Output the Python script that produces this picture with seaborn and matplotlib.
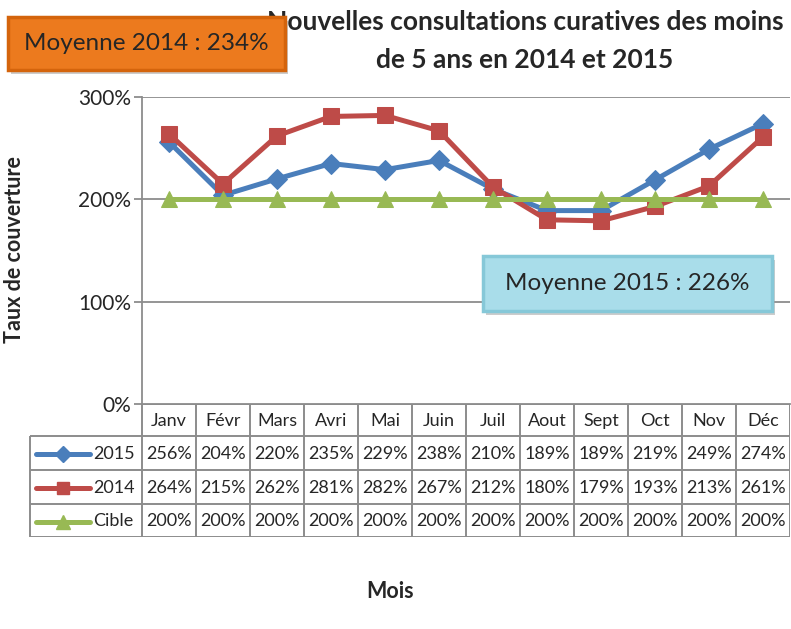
"""Nouvelles consultations curatives - taux de couverture 2014 / 2015."""

import matplotlib
matplotlib.use('Agg')
import matplotlib.pyplot as plt
from matplotlib.patches import FancyBboxPatch
import numpy as np
import pandas as pd
import seaborn as sns

# data
months = ['Janv', 'Févr', 'Mars', 'Avri', 'Mai', 'Juin', 'Juil', 'Aout',
          'Sept', 'Oct', 'Nov', 'Déc']
taux_2015 = [256, 204, 220, 235, 229, 238, 210, 189, 189, 219, 249, 274]
taux_2014 = [264, 215, 262, 281, 282, 267, 212, 180, 179, 193, 213, 261]
cible = [200, 200, 200, 200, 200, 200, 200, 200, 200, 200, 200, 200]
y_ticks = [0, 100, 200, 300]

series = [
    ('2015', taux_2015, '#4A7EBB', 'D', 10),
    ('2014', taux_2014, '#BE4B48', 's', 11),
    ('Cible', cible, '#98B954', '^', 12),
]

df = pd.DataFrame({'mois': months, '2015': taux_2015, '2014': taux_2014, 'Cible': cible})
df['idx'] = np.arange(len(months))

sns.set_style("white")
plt.rcParams['font.family'] = ['Lato', 'DejaVu Sans']

W, H = 791, 629
fig = plt.figure(figsize=(W / 100, H / 100), dpi=100)


def px_axes(x0, y0, x1, y1):
    """Axes placed from pixel coordinates (origin top-left)."""
    return fig.add_axes([x0 / W, 1 - y1 / H, (x1 - x0) / W, (y1 - y0) / H])


# main plot area
ax = px_axes(142, 97, 790, 404)
grid_col = '#8C8C8C'
for v in y_ticks[1:]:
    ax.axhline(v, color=grid_col, lw=1.3, zorder=0)

for name, vals, col, mk, ms in series:
    sns.lineplot(data=df, x='idx', y=name, ax=ax, color=col, marker=mk,
                 markersize=ms, markeredgecolor=col, linewidth=3.6,
                 label=name, legend=False, zorder=3)

ax.set_xlim(-0.5, len(months) - 0.5)
ax.set_ylim(0, 300)
ax.set_yticks(y_ticks)
ax.set_yticklabels([f'{v}%' for v in y_ticks], fontsize=15)
ax.set_xticks([])
ax.set_xlabel('')
ax.set_ylabel('')
ax.tick_params(axis='y', length=6, color=grid_col, width=1.3, pad=2, left=True)
for s in ['top', 'right']:
    ax.spines[s].set_visible(False)
for s in ['left', 'bottom']:
    ax.spines[s].set_color(grid_col)
    ax.spines[s].set_linewidth(1.3)
ax.patch.set_alpha(0)

# data table under the plot
col_w = 54.0
label_left = 29
tx0 = -0.5 - (142 - label_left) / col_w
tab = px_axes(label_left, 404, 790, 537)
tab.set_xlim(tx0, len(months) - 0.5)
tab.set_ylim(537, 404)
tab.axis('off')
rows_y = [404, 436, 470, 504, 537]
lw = 1.4
for k in range(len(months) + 1):
    tab.vlines(k - 0.5, 404, 537, color=grid_col, lw=lw)
tab.vlines(tx0 + 0.02, 436, 537, color=grid_col, lw=lw)
tab.hlines(404, -0.5, len(months) - 0.5, color=grid_col, lw=lw)
for yy in rows_y[1:]:
    tab.hlines(yy, tx0 + 0.02, len(months) - 0.5, color=grid_col, lw=lw)

fs_tab = 13
for i, m in enumerate(months):
    tab.text(i, (rows_y[0] + rows_y[1]) / 2 + 1, m, ha='center', va='center', fontsize=fs_tab)
for r, (name, vals, col, mk, ms) in enumerate(series):
    yc = (rows_y[r + 1] + rows_y[r + 2]) / 2 + 1
    for i, v in enumerate(vals):
        tab.text(i, yc, f'{v}%', ha='center', va='center', fontsize=fs_tab)
    kx = lambda p: tx0 + (p - label_left) / col_w
    tab.plot([kx(36), kx(90)], [yc, yc], color=col, lw=3.6, solid_capstyle='round')
    tab.plot([kx(63)], [yc], marker=mk, color=col, markersize=ms * 0.8)
    tab.text(kx(93), yc, name, ha='left', va='center', fontsize=fs_tab)

# titles and axis labels
fig.text(525 / W, 1 - 22 / H, 'Nouvelles consultations curatives des moins',
         ha='center', va='center', fontsize=19, fontweight='bold')
fig.text(525 / W, 1 - 60 / H, 'de 5 ans en 2014 et 2015',
         ha='center', va='center', fontsize=19, fontweight='bold')
fig.text(15 / W, 1 - 250 / H, 'Taux de couverture', rotation=90,
         ha='center', va='center', fontsize=15.5, fontweight='bold')
fig.text(390 / W, 1 - 592 / H, 'Mois', ha='center', va='center',
         fontsize=15.5, fontweight='bold')

# average boxes
moy_2014 = np.mean(taux_2014)
moy_2015 = np.mean(taux_2015)


def avg_box(x0, y0, x1, y1, text, face, edge):
    shadow = FancyBboxPatch((x0 / W + 0.004, 1 - y1 / H - 0.006),
                            (x1 - x0) / W, (y1 - y0) / H,
                            boxstyle='square,pad=0', transform=fig.transFigure,
                            facecolor='#9A9A9A', edgecolor='none', alpha=0.5, zorder=9)
    box = FancyBboxPatch((x0 / W, 1 - y1 / H), (x1 - x0) / W, (y1 - y0) / H,
                         boxstyle='square,pad=0', transform=fig.transFigure,
                         facecolor=face, edgecolor=edge, lw=2.5, zorder=10)
    fig.patches.extend([shadow, box])
    fig.text((x0 + x1) / 2 / W, 1 - (y0 + y1) / 2 / H, text, ha='center',
             va='center', fontsize=17.5, zorder=11)


avg_box(8, 17, 285, 70, f'Moyenne 2014 : {moy_2014:.0f}%', '#EC7A1E', '#D4640C')
avg_box(483, 256, 772, 311, f'Moyenne 2015 : {moy_2015:.0f}%', '#A9DDEA', '#86C8D8')

plt.savefig('out.png', dpi=100)
plt.close()
